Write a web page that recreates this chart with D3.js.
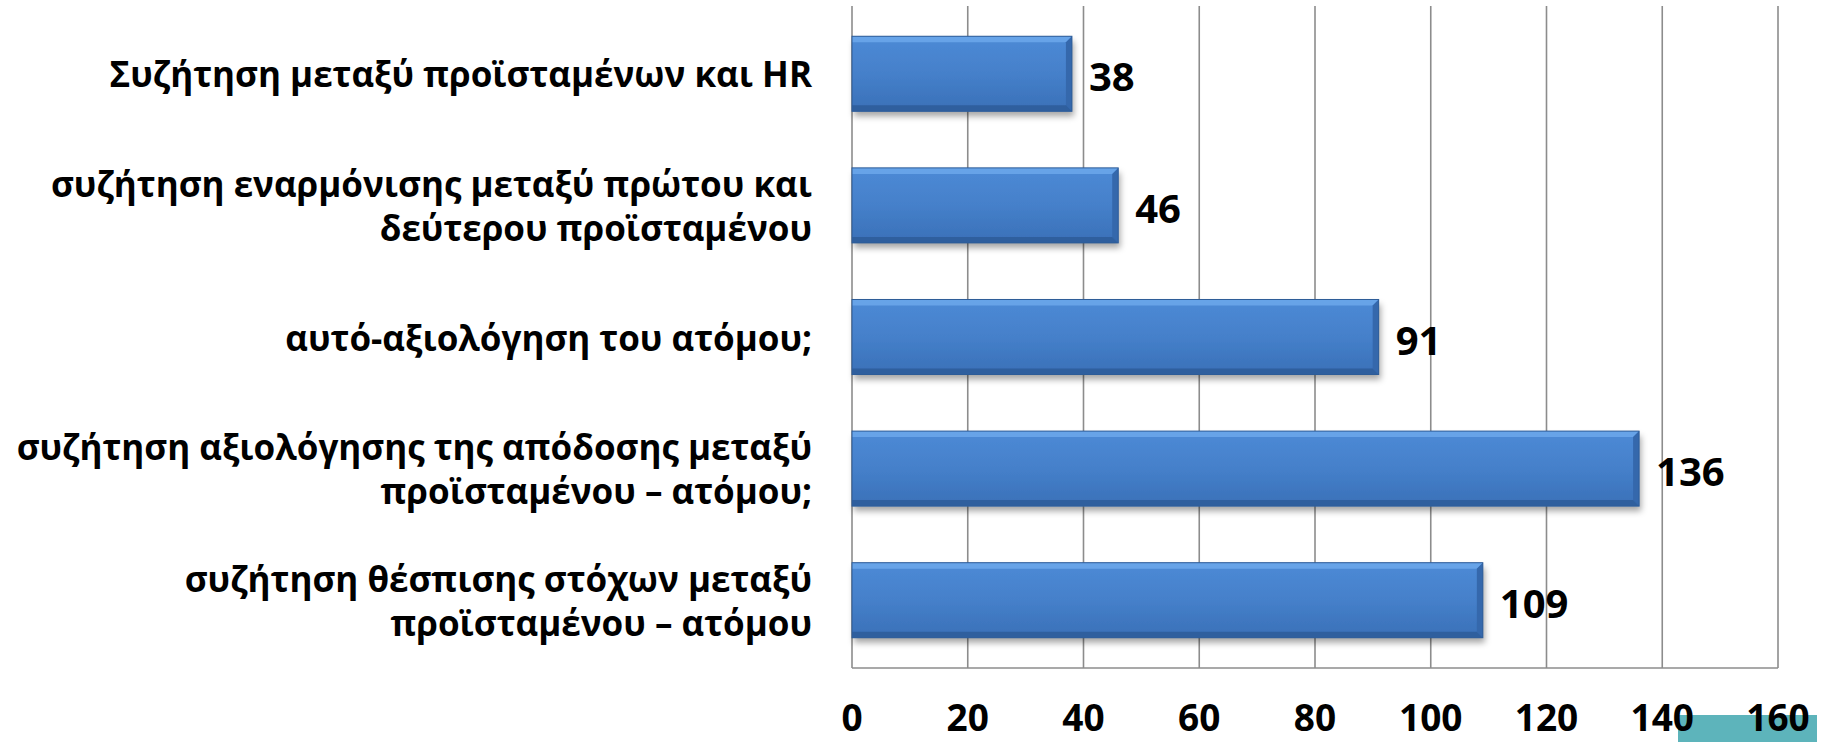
<!DOCTYPE html>
<html><head><meta charset="utf-8">
<script src="https://cdn.jsdelivr.net/npm/d3@7"></script>
<style>body{margin:0;background:#fff}</style>
</head><body>
<svg id="c" width="1831" height="742"></svg>
<script>
const categories = [
  "Συζήτηση μεταξύ προϊσταμένων και HR",
  "συζήτηση εναρμόνισης μεταξύ πρώτου και δεύτερου προϊσταμένου",
  "αυτό-αξιολόγηση του ατόμου;",
  "συζήτηση αξιολόγησης της απόδοσης μεταξύ προϊσταμένου – ατόμου;",
  "συζήτηση θέσπισης στόχων μεταξύ προϊσταμένου – ατόμου"
];
const categoryLines = [
  ["Συζήτηση μεταξύ προϊσταμένων και HR"],
  ["συζήτηση εναρμόνισης μεταξύ πρώτου και", "δεύτερου προϊσταμένου"],
  ["αυτό-αξιολόγηση του ατόμου;"],
  ["συζήτηση αξιολόγησης της απόδοσης μεταξύ", "προϊσταμένου – ατόμου;"],
  ["συζήτηση θέσπισης στόχων μεταξύ", "προϊσταμένου – ατόμου"]
];
const values = [38, 46, 91, 136, 109];
const tickValues = [0, 20, 40, 60, 80, 100, 120, 140, 160];

const svg = d3.select("#c");
const FONT = "'Open Sans', 'Noto Sans', sans-serif";
const x = d3.scaleLinear().domain([0, 160]).range([852, 1778]);
const y = d3.scaleBand().domain(categories).range([6, 668]).paddingInner(0.43).paddingOuter(0.23);

const defs = svg.append("defs");
const g = defs.append("linearGradient").attr("id", "barGrad").attr("x1", 0).attr("y1", 0).attr("x2", 0).attr("y2", 1);
g.append("stop").attr("offset", "0").attr("stop-color", "#4d8ad6");
g.append("stop").attr("offset", "0.5").attr("stop-color", "#4580ca");
g.append("stop").attr("offset", "1").attr("stop-color", "#3a70b8");
const f = defs.append("filter").attr("id", "shadow").attr("x", "-5%").attr("y", "-20%").attr("width", "115%").attr("height", "160%");
f.append("feDropShadow").attr("dx", 2).attr("dy", 5).attr("stdDeviation", 3).attr("flood-color", "#000").attr("flood-opacity", 0.35);

// decorative teal block at bottom right
svg.append("rect").attr("x", 1678).attr("y", 715).attr("width", 139).attr("height", 27).attr("fill", "#5db4bb");

// gridlines
svg.append("g").selectAll("line").data(tickValues).join("line")
  .attr("x1", d => x(d)).attr("x2", d => x(d))
  .attr("y1", 6).attr("y2", 668)
  .attr("stroke", "#8c8c8c").attr("stroke-width", 1.6);
// bottom axis line
svg.append("line").attr("x1", x(0)).attr("x2", x(160)).attr("y1", 668).attr("y2", 668)
  .attr("stroke", "#8c8c8c").attr("stroke-width", 1.6);

// bars
const bw = y.bandwidth();
const bev = 6;
const bars = svg.append("g").selectAll("g").data(values).join("g")
  .attr("transform", (d, i) => `translate(${x(0)},${y(categories[i])})`);
bars.append("rect").attr("width", d => x(d) - x(0)).attr("height", bw)
  .attr("fill", "url(#barGrad)").attr("filter", "url(#shadow)");
bars.append("path").attr("d", d => { const w = x(d) - x(0); return `M0,0 L${w},0 L${w - bev},${bev} L0,${bev} Z`; })
  .attr("fill", "#6aa6ea").attr("opacity", 0.9);
bars.append("path").attr("d", d => { const w = x(d) - x(0); return `M${w},0 L${w},${bw} L${w - bev},${bw - bev} L${w - bev},${bev} Z`; })
  .attr("fill", "#3568ac");
bars.append("path").attr("d", d => { const w = x(d) - x(0); return `M0,${bw} L${w},${bw} L${w - bev},${bw - bev} L0,${bw - bev} Z`; })
  .attr("fill", "#2f5f9e");
bars.append("rect").attr("width", d => x(d) - x(0)).attr("height", bw)
  .attr("fill", "none").attr("stroke", "#2e5c98").attr("stroke-width", 1);

// value labels
svg.append("g").selectAll("text").data(values).join("text")
  .attr("x", d => x(d) + 17)
  .attr("y", (d, i) => y(categories[i]) + bw / 2 + 2)
  .attr("dominant-baseline", "central")
  .attr("font-family", FONT).attr("font-weight", 700).attr("font-size", 40)
  .attr("fill", "#000").text(d => d);

// category labels
const lab = svg.append("g").selectAll("text").data(categoryLines).join("text")
  .attr("text-anchor", "end")
  .attr("font-family", FONT).attr("font-weight", 700).attr("font-size", 35)
  .attr("fill", "#000")
  .attr("transform", (d, i) => `translate(812,${y(categories[i]) + bw / 2})`);
lab.each(function(lines) {
  const t = d3.select(this);
  const lh = 44;
  const off = -(lines.length - 1) * lh / 2;
  lines.forEach((l, j) => {
    t.append("tspan").attr("x", 0).attr("y", off + j * lh).attr("dominant-baseline", "central").text(l);
  });
});

// tick labels
svg.append("g").selectAll("text").data(tickValues).join("text")
  .attr("x", d => x(d)).attr("y", 731)
  .attr("text-anchor", "middle")
  .attr("font-family", FONT).attr("font-weight", 700).attr("font-size", 37)
  .attr("fill", "#000").text(d => d);
</script>
</body></html>
